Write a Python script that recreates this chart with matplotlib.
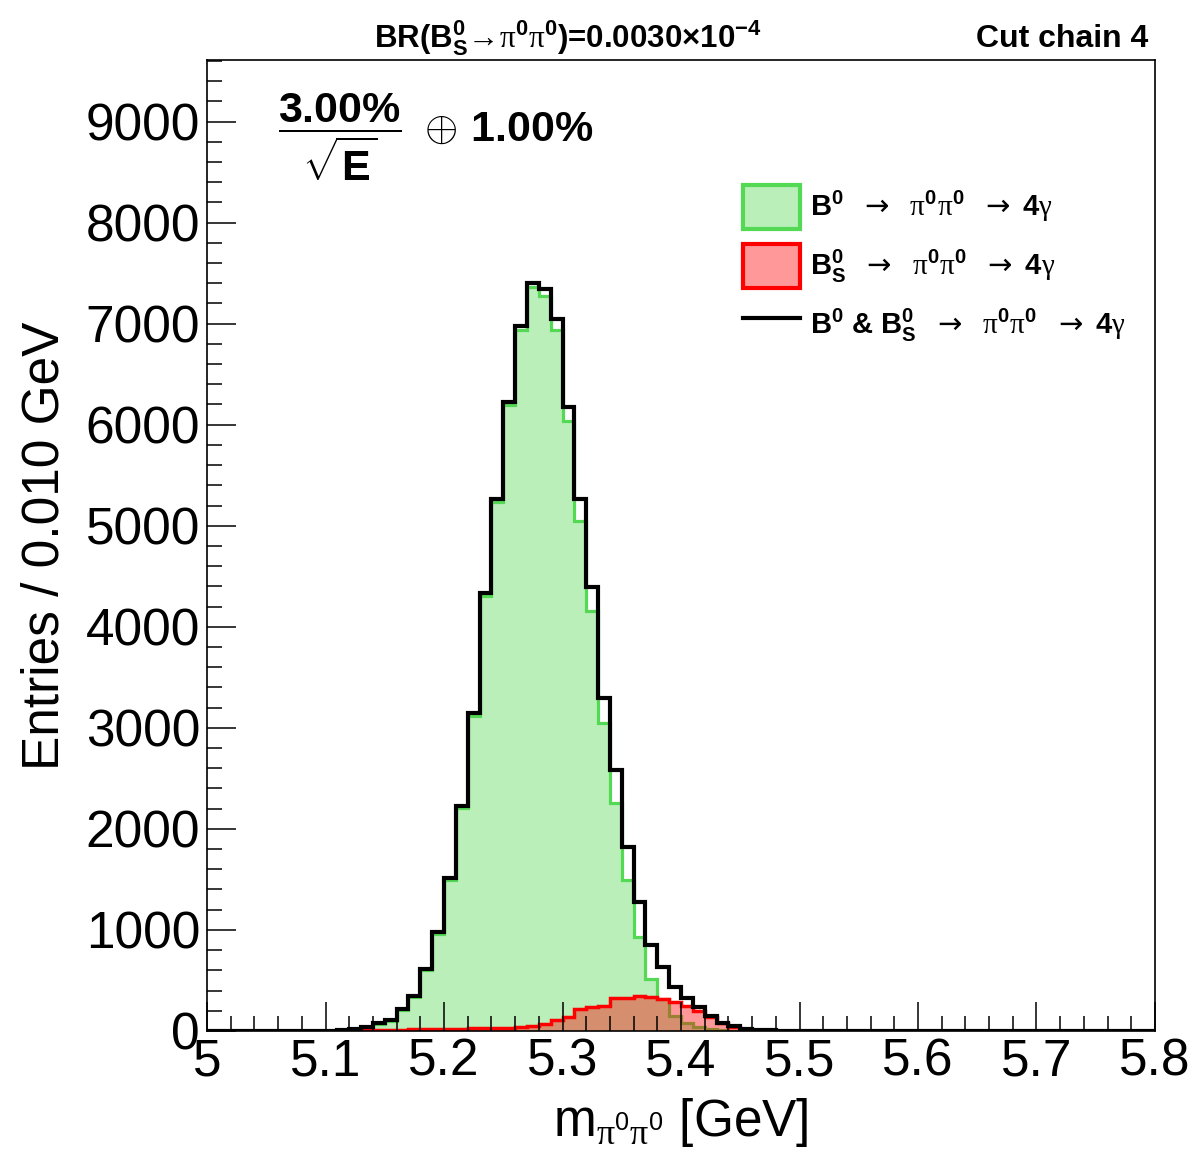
import numpy as np
import matplotlib.pyplot as plt
from matplotlib.patches import Patch
from matplotlib.lines import Line2D
from matplotlib.ticker import MultipleLocator

plt.rcParams['font.family'] = ['Liberation Sans', 'DejaVu Sans']
plt.rcParams['mathtext.fontset'] = 'custom'
plt.rcParams['mathtext.rm'] = 'Liberation Sans'
plt.rcParams['mathtext.bf'] = 'Liberation Sans:bold'
plt.rcParams['mathtext.it'] = 'Liberation Sans:italic'
plt.rcParams['mathtext.sf'] = 'DejaVu Sans'
plt.rcParams['mathtext.tt'] = 'Liberation Serif'  # used for the symbol-font greek letters

# m(pi0 pi0) histogram, 80 bins of 0.010 GeV from 5.00 to 5.80
x_lo, x_hi = 5.0, 5.8

b0_counts = [0, 0, 0, 0, 0, 0, 0, 0, 1, 2,
             3, 5, 15, 35, 66, 100, 206, 334, 600, 960,
             1493, 2204, 3122, 4309, 5237, 6195, 6942, 7361, 7277, 6941,
             6036, 5049, 4158, 3052, 2257, 1498, 930, 514, 313, 145,
             75, 35, 15, 6, 3, 1, 0, 0, 0, 0,
             1, 1, 0, 0, 0, 0, 0, 0, 0, 0,
             0, 0, 0, 0, 0, 0, 0, 0, 0, 0,
             0, 0, 0, 0, 0, 0, 0, 0, 0, 0]

bs_counts = [0, 0, 0, 0, 0, 0, 0, 0, 0, 0,
             1, 3, 5, 8, 10, 12, 14, 16, 18, 20,
             22, 24, 26, 28, 30, 33, 38, 45, 69, 109,
             142, 218, 238, 248, 327, 327, 350, 337, 317, 290,
             248, 201, 135, 76, 43, 23, 12, 6, 3, 1,
             0, 0, 0, 0, 0, 0, 0, 0, 0, 0,
             0, 0, 0, 0, 0, 0, 0, 0, 0, 0,
             0, 0, 0, 0, 0, 0, 0, 0, 0, 0]

total_counts = [0, 0, 0, 0, 0, 0, 0, 0, 1, 2,
                4, 8, 20, 43, 76, 112, 220, 350, 618, 980,
                1515, 2228, 3148, 4337, 5267, 6228, 6980, 7406, 7346, 7050,
                6178, 5267, 4396, 3300, 2584, 1825, 1280, 851, 630, 435,
                323, 236, 150, 82, 46, 24, 12, 6, 3, 1,
                1, 1, 0, 0, 0, 0, 0, 0, 0, 0,
                0, 0, 0, 0, 0, 0, 0, 0, 0, 0,
                0, 0, 0, 0, 0, 0, 0, 0, 0, 0]

decay = r'$\mathsf{\rightarrow}$  $\mathtt{\pi}^\mathbf{0}\mathtt{\pi}^\mathbf{0}$  $\mathsf{\rightarrow}$ $\mathbf{4}\mathtt{\gamma}$'
labels = [
    r'$\mathbf{B^0}$  ' + decay,
    r'$\mathbf{B^0_S}$  ' + decay,
    r'$\mathbf{B^0}$ & $\mathbf{B^0_S}$  ' + decay,
]

green_line = (0.33, 0.85, 0.33)
green_fill = (0.33, 0.85, 0.33, 0.4)
red_fill = (1.0, 0.0, 0.0, 0.4)

fig = plt.figure(figsize=(11.98, 11.55), dpi=100)
ax = fig.add_axes([0.1728, 0.1074, 0.7913, 0.8407])

edges = np.linspace(x_lo, x_hi, len(total_counts) + 1)
ax.stairs(b0_counts, edges, fill=True, color=green_fill, lw=0)
ax.stairs(b0_counts, edges, color=green_line, lw=2.3)
ax.stairs(bs_counts, edges, fill=True, color=red_fill, lw=0)
ax.stairs(bs_counts, edges, color='red', lw=2.5)
ax.stairs(total_counts, edges, color='black', lw=3)

ax.set_xlim(x_lo, x_hi)
ax.set_ylim(0, 9610)
ax.xaxis.set_major_locator(MultipleLocator(0.1))
ax.xaxis.set_minor_locator(MultipleLocator(0.02))
ax.yaxis.set_major_locator(MultipleLocator(1000))
ax.yaxis.set_minor_locator(MultipleLocator(200))
ax.xaxis.set_major_formatter(lambda v, p: f'{v:g}')
ax.tick_params(which='both', direction='in', top=False, right=False, width=1.1)
ax.tick_params(which='major', length=21, labelsize=37)
ax.tick_params(which='minor', length=10.5)
ax.tick_params(axis='x', pad=5)
ax.tick_params(axis='y', pad=5)
for sp in ax.spines.values():
    sp.set_linewidth(1.2)

ax.set_xlabel(r'$\mathrm{m}_{\mathtt{\pi}^\mathrm{0}\mathtt{\pi}^\mathrm{0}}$ [GeV]', fontsize=37, va='center')
ax.xaxis.set_label_coords(0.5, -0.094)
ax.set_ylabel('Entries / 0.010 GeV', fontsize=37, va='center')
ax.yaxis.set_label_coords(-0.171, 0.5)

fig.text(568 / 1198, 1 - 47 / 1155,
         r'BR($\mathbf{B^0_S}$→$\mathtt{\pi}^\mathbf{0}\mathtt{\pi}^\mathbf{0}$)=0.0030×$\mathbf{10^{-4}}$',
         ha='center', va='baseline', fontsize=22.5, weight='bold')
fig.text(1148 / 1198, 1 - 47 / 1155, 'Cut chain 4', ha='right', va='baseline',
         fontsize=23, weight='bold')
fig.text(278 / 1198, 1 - 137 / 1155,
         r'$\dfrac{\mathbf{3.00\%}}{\sqrt{\mathbf{E}}}\ \oplus\,\mathbf{1.00\%}$',
         ha='left', va='center', fontsize=31)

handles = [Patch(facecolor=green_fill, edgecolor=green_line, lw=3),
           Patch(facecolor=red_fill, edgecolor='red', lw=3),
           Line2D([], [], color='black', lw=3)]
fig.legend(handles, labels, loc='upper left', bbox_to_anchor=(743 / 1198, 1 - 185 / 1155),
           frameon=False, prop={'size': 21, 'weight': 'bold'},
           handlelength=1.95, handleheight=1.94, labelspacing=0.51,
           handletextpad=0.35, borderpad=0, borderaxespad=0)

fig.savefig('out.png', dpi=100)
